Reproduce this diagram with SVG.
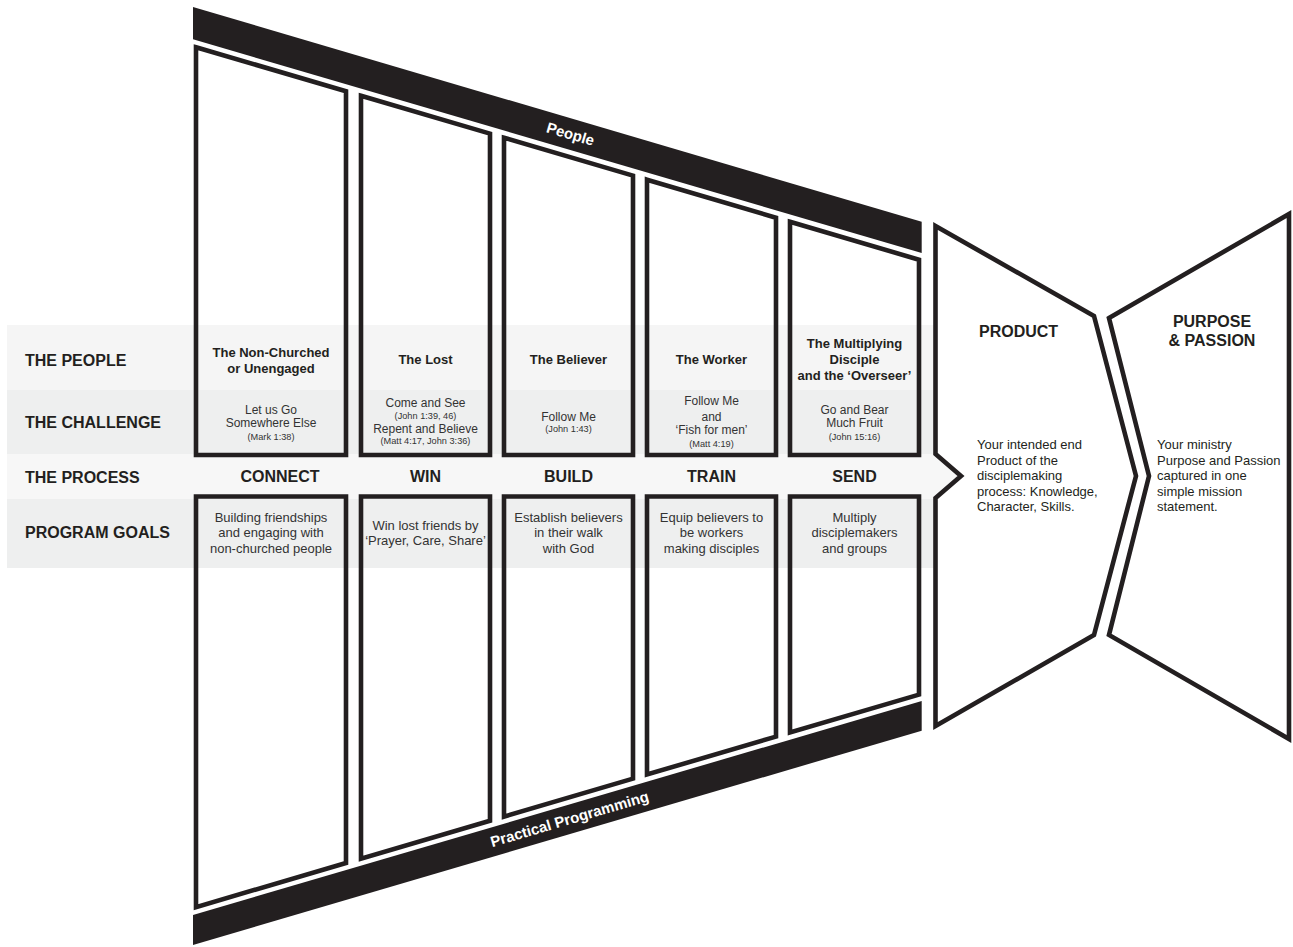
<svg xmlns="http://www.w3.org/2000/svg" width="1293" height="947" viewBox="0 0 1293 947">
<style>
.box{fill:none;stroke:#231f20;stroke-width:4.6;stroke-linejoin:miter}
.band{fill:#231f20}
.t{font-family:"Liberation Sans",Arial,sans-serif;fill:#231f20}
.hdr{font-size:16px;font-weight:bold}
.ppl{font-size:13px;font-weight:bold;text-anchor:middle}
.ch{font-size:12px;text-anchor:middle;fill:#333}
.ref{font-size:9.2px;text-anchor:middle;fill:#333}
.proc{font-size:16px;font-weight:bold;text-anchor:middle}
.goal{font-size:13px;text-anchor:middle;fill:#333}
.body{font-size:13px}
.bandtxt{font-size:15px;font-weight:bold;fill:#fff;text-anchor:middle}
</style>
<rect width="1293" height="947" fill="#fff"/>
<g id="row-bands">
<rect x="7" y="325" width="928" height="65" fill="#f5f5f5"/>
<rect x="7" y="390" width="928" height="64" fill="#eeefef"/>
<polygon points="7,454 935,454 961,476 935,499 7,499" fill="#f7f7f7"/>
<rect x="7" y="499" width="928" height="69" fill="#eeefef"/>
</g>
<g id="band-people">
<polygon class="band" points="193,7 921.7,221.7 921.7,253 193,39.3"/>
<text class="t bandtxt" transform="translate(569,139) rotate(16.4)">People</text>
</g>
<g id="band-programming">
<polygon class="band" points="193,915 921.7,701 921.7,730.7 193,945"/>
<text class="t bandtxt" transform="translate(571,824) rotate(-16.4)">Practical Programming</text>
</g>
<g id="row-labels">
<text class="t hdr" x="25" y="365.7">THE PEOPLE</text>
<text class="t hdr" x="25" y="428.3">THE CHALLENGE</text>
<text class="t hdr" x="25" y="482.7">THE PROCESS</text>
<text class="t hdr" x="25" y="538.3">PROGRAM GOALS</text>
</g>
<g id="col-connect">
<polygon class="box" points="196,47.2 346,91.3 346,455 196,455"/>
<polygon class="box" points="196,496.5 346,496.5 346,863 196,907.1"/>
<text class="t ppl" x="271" y="357.3">The Non-Churched</text>
<text class="t ppl" x="271" y="373.3">or Unengaged</text>
<text class="t ch" x="271" y="414">Let us Go</text>
<text class="t ch" x="271" y="427.3">Somewhere Else</text>
<text class="t ref" x="271" y="440">(Mark 1:38)</text>
<text class="t proc" x="280" y="482">CONNECT</text>
<text class="t goal" x="271" y="521.7">Building friendships</text>
<text class="t goal" x="271" y="537.3">and engaging with</text>
<text class="t goal" x="271" y="553.3">non-churched people</text>
</g>
<g id="col-win">
<polygon class="box" points="361,95.7 490,133.6 490,455 361,455"/>
<polygon class="box" points="361,496.5 490,496.5 490,820.7 361,858.6"/>
<text class="t ppl" x="425.5" y="364.3">The Lost</text>
<text class="t ch" x="425.5" y="407.3">Come and See</text>
<text class="t ref" x="425.5" y="418.7">(John 1:39, 46)</text>
<text class="t ch" x="425.5" y="433.3">Repent and Believe</text>
<text class="t ref" x="425.5" y="444.3">(Matt 4:17, John 3:36)</text>
<text class="t proc" x="425.5" y="482">WIN</text>
<text class="t goal" x="425.5" y="530">Win lost friends by</text>
<text class="t goal" x="425.5" y="545.3">‘Prayer, Care, Share’</text>
</g>
<g id="col-build">
<polygon class="box" points="504,137.7 633,175.6 633,455 504,455"/>
<polygon class="box" points="504,496.5 633,496.5 633,778.6 504,816.6"/>
<text class="t ppl" x="568.5" y="364.3">The Believer</text>
<text class="t ch" x="568.5" y="420.7">Follow Me</text>
<text class="t ref" x="568.5" y="431.7">(John 1:43)</text>
<text class="t proc" x="568.5" y="482">BUILD</text>
<text class="t goal" x="568.5" y="521.7">Establish believers</text>
<text class="t goal" x="568.5" y="537.3">in their walk</text>
<text class="t goal" x="568.5" y="553.3">with God</text>
</g>
<g id="col-train">
<polygon class="box" points="647,179.7 776,217.7 776,455 647,455"/>
<polygon class="box" points="647,496.5 776,496.5 776,736.6 647,774.5"/>
<text class="t ppl" x="711.5" y="364.3">The Worker</text>
<text class="t ch" x="711.5" y="405.3">Follow Me</text>
<text class="t ch" x="711.5" y="420.7">and</text>
<text class="t ch" x="711.5" y="434.3">‘Fish for men’</text>
<text class="t ref" x="711.5" y="446.7">(Matt 4:19)</text>
<text class="t proc" x="711.5" y="482">TRAIN</text>
<text class="t goal" x="711.5" y="521.7">Equip believers to</text>
<text class="t goal" x="711.5" y="537.3">be workers</text>
<text class="t goal" x="711.5" y="553.3">making disciples</text>
</g>
<g id="col-send">
<polygon class="box" points="790,221.8 919,259.7 919,455 790,455"/>
<polygon class="box" points="790,496.5 919,496.5 919,694.6 790,732.5"/>
<text class="t ppl" x="854.5" y="348.3">The Multiplying</text>
<text class="t ppl" x="854.5" y="364.3">Disciple</text>
<text class="t ppl" x="854.5" y="380">and the ‘Overseer’</text>
<text class="t ch" x="854.5" y="414">Go and Bear</text>
<text class="t ch" x="854.5" y="427.3">Much Fruit</text>
<text class="t ref" x="854.5" y="440">(John 15:16)</text>
<text class="t proc" x="854.5" y="482">SEND</text>
<text class="t goal" x="854.5" y="521.7">Multiply</text>
<text class="t goal" x="854.5" y="537.3">disciplemakers</text>
<text class="t goal" x="854.5" y="553.3">and groups</text>
</g>
<g id="product">
<polygon class="box" fill="#fff" style="fill:#fff" points="935.5,226 1094,316 1136,476 1094,635 935.5,726 935.5,498 961,476 935.5,454"/>
<text class="t hdr" x="979" y="336.5">PRODUCT</text>
<text class="t body" x="977" y="449">Your intended end</text>
<text class="t body" x="977" y="464.6">Product of the</text>
<text class="t body" x="977" y="480.2">disciplemaking</text>
<text class="t body" x="977" y="495.8">process: Knowledge,</text>
<text class="t body" x="977" y="511.4">Character, Skills.</text>
</g>
<g id="purpose">
<polygon class="box" style="fill:#fff" points="1109,318 1289,214 1289,739 1109,635 1149,476"/>
<text class="t hdr" x="1212" y="327" text-anchor="middle">PURPOSE</text>
<text class="t hdr" x="1212" y="345.7" text-anchor="middle">&amp; PASSION</text>
<text class="t body" x="1157" y="449">Your ministry</text>
<text class="t body" x="1157" y="464.6">Purpose and Passion</text>
<text class="t body" x="1157" y="480.2">captured in one</text>
<text class="t body" x="1157" y="495.8">simple mission</text>
<text class="t body" x="1157" y="511.4">statement.</text>
</g>
<g id="connectors"></g>
</svg>
